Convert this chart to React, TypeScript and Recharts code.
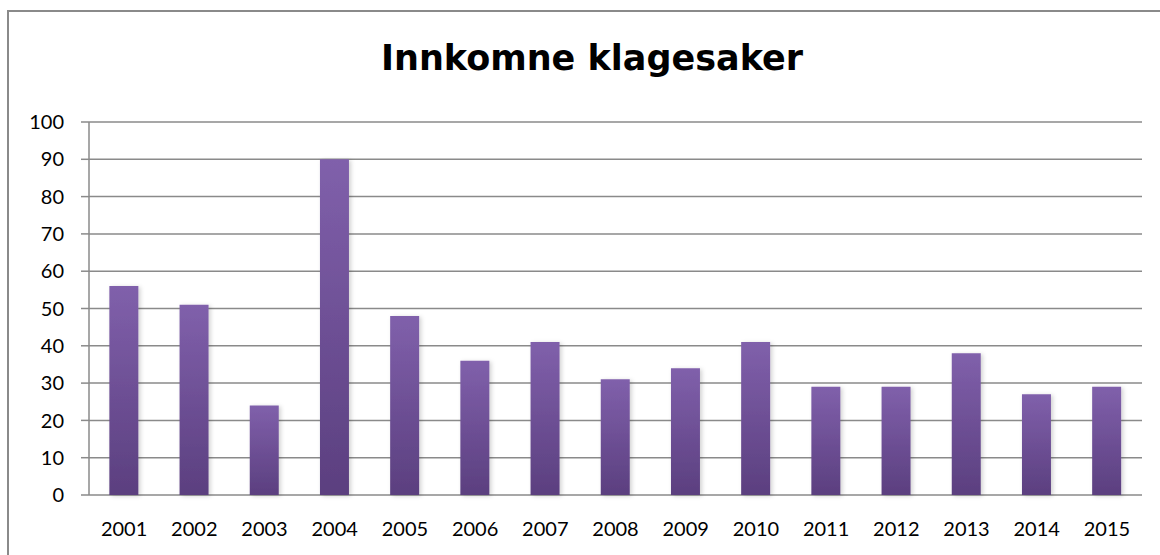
import { Bar, BarChart, CartesianGrid, XAxis, YAxis } from "recharts";

const years = ["2001", "2002", "2003", "2004", "2005", "2006", "2007", "2008", "2009", "2010", "2011", "2012", "2013", "2014", "2015"];
const cases = [56, 51, 24, 90, 48, 36, 41, 31, 34, 41, 29, 29, 38, 27, 29];
const yTicks = [0, 10, 20, 30, 40, 50, 60, 70, 80, 90, 100];
const boundaryTicks = years.map((_, i) => i).concat(years.length);

const data = years.map((year, i) => ({ year, value: cases[i], pos: i + 0.5 }));

const FONT = "Lato, 'Open Sans', sans-serif";
const AXIS = "#8a8a8a";

export default function App() {
  return (
    <div style={{ position: "absolute", left: 0, top: 0, width: 1160, height: 555, background: "#fff", overflow: "hidden", fontFamily: FONT }}>
      <div style={{ position: "absolute", left: 7, top: 10, width: 1170, height: 570, border: `2px solid ${AXIS}`, boxSizing: "border-box" }} />
      <div style={{ position: "absolute", left: 0, top: 41, width: 1184, textAlign: "center", fontSize: 35, fontWeight: 700, color: "#000", lineHeight: "35px", fontFamily: "'DejaVu Sans', sans-serif" }}>
        Innkomne klagesaker
      </div>
      <BarChart
        width={1160}
        height={555}
        data={data}
        margin={{ top: 122, right: 18, left: 0, bottom: 0 }}
        barCategoryGap="29%"
        style={{ position: "absolute", left: 0, top: 0 }}
      >
        <defs>
          <linearGradient id="barFill" x1="0" y1="0" x2="0" y2="1">
            <stop offset="0%" stopColor="#8060AB" />
            <stop offset="100%" stopColor="#5B3F7F" />
          </linearGradient>
          <filter id="barShadow" x="-30%" y="-5%" width="160%" height="110%">
            <feDropShadow dx="2" dy="1" stdDeviation="2" floodColor="#000" floodOpacity="0.18" />
          </filter>
        </defs>
        <CartesianGrid vertical={false} stroke={AXIS} strokeWidth={1.5} />
        <XAxis
          dataKey="year"
          xAxisId="cat"
          height={60}
          axisLine={false}
          tickLine={false}
          tickMargin={21}
          tick={{ fontSize: 20, fill: "#000", fontFamily: FONT }}
          interval={0}
        />
        <XAxis
          xAxisId="edge"
          type="number"
          dataKey="pos"
          domain={[0, years.length]}
          ticks={boundaryTicks}
          height={0}
          tickSize={8}
          tick={false}
          stroke={AXIS}
          axisLine={{ stroke: AXIS, strokeWidth: 1.5 }}
          tickLine={{ stroke: AXIS, strokeWidth: 1.5 }}
        />
        <YAxis
          width={89}
          domain={[0, 100]}
          ticks={yTicks}
          interval={0}
          tickSize={8}
          tickMargin={17}
          axisLine={{ stroke: AXIS, strokeWidth: 1.5 }}
          tickLine={{ stroke: AXIS, strokeWidth: 1.5 }}
          tick={{ fontSize: 20, fill: "#000", fontFamily: FONT }}
        />
        <Bar
          xAxisId="cat"
          dataKey="value"
          fill="url(#barFill)"
          filter="url(#barShadow)"
          isAnimationActive={false}
        />
      </BarChart>
    </div>
  );
}
